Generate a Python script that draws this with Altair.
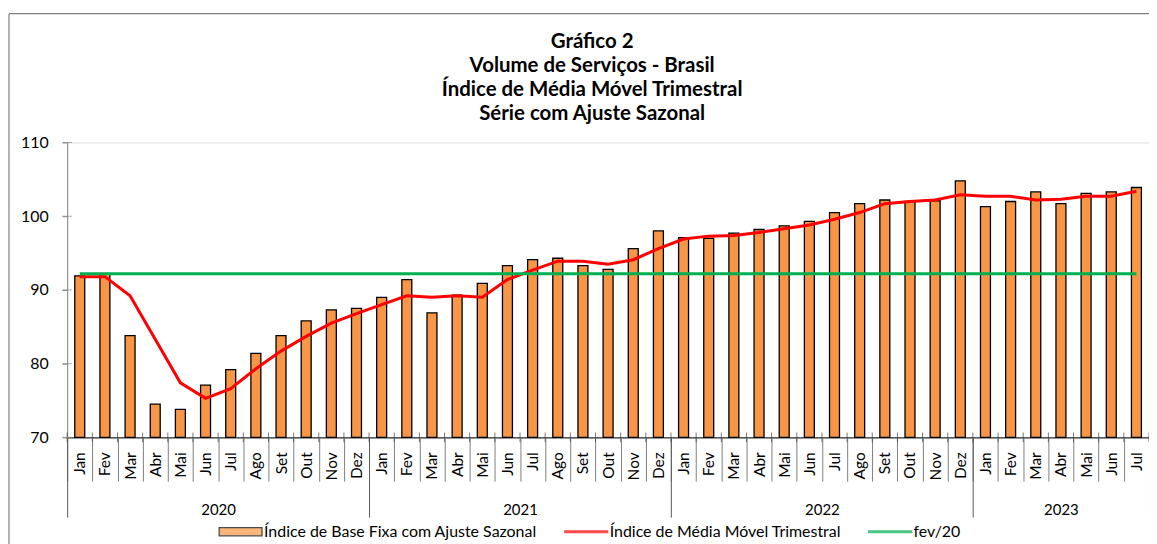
import altair as alt
import pandas as pd

FONT = "Lato"

months = ["Jan", "Fev", "Mar", "Abr", "Mai", "Jun", "Jul", "Ago", "Set", "Out", "Nov", "Dez"]
years = ["2020", "2021", "2022", "2023"]
months_per_year = [12, 12, 12, 7]

indice = [91.9, 92.1, 83.8, 74.5, 73.8, 77.1, 79.2, 81.4, 83.8, 85.8, 87.3, 87.5,
          89.0, 91.4, 86.9, 89.3, 90.9, 93.3, 94.1, 94.3, 93.3, 92.8, 95.6, 98.0,
          97.1, 97.0, 97.7, 98.2, 98.7, 99.3, 100.5, 101.7, 102.2, 102.0, 102.1, 104.8,
          101.3, 102.0, 103.3, 101.7, 103.1, 103.3, 103.9]
media_movel = [91.8, 91.8, 89.2, 83.3, 77.4, 75.3, 76.6, 79.3, 81.7, 83.7, 85.5, 86.8,
               88.0, 89.2, 89.0, 89.2, 89.0, 91.4, 92.7, 93.9, 93.9, 93.5, 94.1, 95.6,
               96.9, 97.3, 97.4, 97.8, 98.3, 98.8, 99.6, 100.5, 101.7, 102.0, 102.2, 102.9,
               102.7, 102.7, 102.2, 102.3, 102.7, 102.7, 103.4]
fev20 = 92.2
y_ticks = [70, 80, 90, 100, 110]

S1 = "Índice de Base Fixa com Ajuste Sazonal"
S2 = "Índice de Média Móvel Trimestral"
S3 = "fev/20"
series = [S1, S2, S3]
series_colors = ["#F79646", "#FF0000", "#00B050"]

n = len(indice)
df = pd.DataFrame({
    "pos": [i + 0.5 for i in range(n)],
    "indice": indice,
    "mm": media_movel,
    "ref": [fev20] * n,
})
bounds_df = pd.DataFrame({"b": list(range(n + 1))})
yt_df = pd.DataFrame({"yv": y_ticks})
leg_df = pd.DataFrame({"serie": series})

year_edges = [0]
for c in months_per_year:
    year_edges.append(year_edges[-1] + c)
year_mids = [(year_edges[i] + year_edges[i + 1]) / 2 for i in range(len(years))]

month_arr = "[" + ",".join("'%s'" % m for m in months) + "]"
year_arr = "[" + ",".join("'%s'" % y for y in years) + "]"

xscale = alt.Scale(domain=[0, n], nice=False, zero=False, padding=0)
yscale = alt.Scale(domain=[70, 110], nice=False, zero=False)
yaxis = alt.Axis(values=y_ticks, title=None, grid=False, tickSize=5, tickColor="#868686",
                 domainColor="#868686", labelFont=FONT, labelFontSize=16, labelColor="black",
                 labelPadding=14)

RECT = "M-1,-0.19H1V0.19H-1Z"
LINE = "M-1,-0.045H1V0.045H-1Z"
legend = alt.Legend(
    orient="none", legendX=151.6, legendY=368, direction="horizontal", title=None,
    labelFont=FONT, labelFontSize=16, labelColor="black", labelLimit=0,
    symbolSize=1849, labelOffset=1, columnPadding=24, symbolStrokeWidth=1.3,
    symbolStrokeColor={"expr": "datum.index === 0 ? '#000000' : (datum.index === 1 ? '#FF0000' : '#00B050')"},
)

base = alt.Chart(df)

bars = base.mark_bar(size=10, color=series_colors[0], stroke="black", strokeWidth=1.3).encode(
    x=alt.X("pos:Q", scale=xscale, axis=alt.Axis(
        orient="bottom", title=None, values=[i + 0.5 for i in range(n)],
        labelExpr=month_arr + "[floor(datum.value) % 12]", ticks=False, grid=False,
        domain=True, domainColor="black", domainWidth=1, labelAngle=270,
        labelFont=FONT, labelFontSize=15.5, labelColor="black", labelPadding=14.5,
        labelFlush=False, labelOverlap=False, labelBound=False)),
    y=alt.Y("indice:Q", scale=yscale, axis=yaxis),
    y2=alt.Y2(datum=70),
)

red = base.mark_line(strokeWidth=3, color=series_colors[1]).encode(
    x=alt.X("pos:Q", scale=xscale, axis=alt.Axis(
        orient="bottom", title=None, values=list(range(n + 1)), labels=False, grid=False,
        domain=False, ticks=True, tickSize=44, tickColor="#7f7f7f", tickWidth=1)),
    y=alt.Y("mm:Q", scale=yscale, axis=yaxis),
)

green = base.mark_line(strokeWidth=3, color=series_colors[2]).encode(
    x=alt.X("pos:Q", scale=xscale, axis=alt.Axis(
        orient="bottom", title=None, values=year_edges, labels=False, grid=False,
        domain=False, ticks=True, tickSize=80, tickColor="#595959", tickWidth=1)),
    y=alt.Y("ref:Q", scale=yscale, axis=yaxis),
)

cross = alt.Chart(bounds_df).mark_tick(orient="vertical", size=10, thickness=1,
                                       color="#404040").encode(
    x=alt.X("b:Q", scale=xscale, axis=alt.Axis(
        orient="bottom", title=None, values=year_mids,
        labelExpr=year_arr + "[floor(datum.value / 12)]", ticks=False, grid=False,
        domain=False, labelAngle=0, labelFont=FONT, labelFontSize=15, labelColor="black",
        labelPadding=65, labelFlush=False, labelOverlap=False, labelBound=False)),
    y=alt.Y(datum=70, type="quantitative", scale=yscale, axis=yaxis),
)

yin = alt.Chart(yt_df).mark_tick(orient="horizontal", size=10, thickness=1,
                                 color="#868686").encode(
    x=alt.X(datum=0, type="quantitative", scale=xscale, axis=None),
    y=alt.Y("yv:Q", scale=yscale, axis=yaxis),
)

leg = alt.Chart(leg_df).mark_point(filled=True, size=0).encode(
    color=alt.Color("serie:N", scale=alt.Scale(domain=series, range=series_colors), legend=legend),
    shape=alt.Shape("serie:N", scale=alt.Scale(domain=series, range=[RECT, LINE, LINE]), legend=legend),
)

one = alt.Data(values=[{"k": 1}])
frame_top = alt.Chart(one).mark_rule(color="#7f7f7f", strokeWidth=1.2).encode(
    x=alt.value(-58.4), x2=alt.value(1120), y=alt.value(-129.3))
frame_left = alt.Chart(one).mark_rule(color="#7f7f7f", strokeWidth=1.2).encode(
    x=alt.value(-58.4), y=alt.value(-129.3), y2=alt.value(420))

chart = alt.layer(bars, red, green, cross, yin, leg, frame_top, frame_left).resolve_axis(
    x="independent"
).properties(
    width=1086,
    height=296,
    autosize=alt.AutoSizeParams(type="none"),
    padding={"left": 59.4, "top": 134, "right": 0, "bottom": 106},
    title=alt.TitleParams(
        text=["Gráfico 2", "Volume de Serviços - Brasil",
              "Índice de Média Móvel Trimestral", "Série com Ajuste Sazonal"],
        font=FONT, fontSize=20.5, fontWeight="bold", color="black", anchor="middle",
        frame="group", lineHeight=24, offset=0, dx=-16, dy=112),
).configure_view(stroke=None).configure(background="white")

chart.save("out.html", embed_options={"renderer": "svg", "actions": False})
